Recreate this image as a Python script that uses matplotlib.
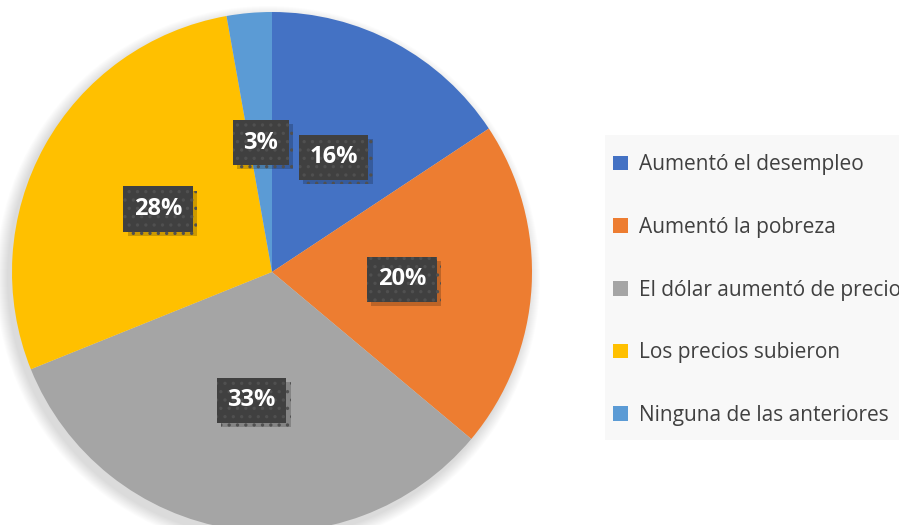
import matplotlib
matplotlib.use("Agg")
import matplotlib.pyplot as plt
import matplotlib.patheffects as pe
from matplotlib.patches import Circle, Rectangle

plt.rcParams["hatch.linewidth"] = 1.2

# datos (porcentaje por respuesta)
categorias = ["Aumentó el desempleo", "Aumentó la pobreza",
              "El dólar aumentó de precios", "Los precios subieron",
              "Ninguna de las anteriores"]
valores = [15.7, 20.4, 32.8, 28.3, 2.8]
colores = ["#4472C4", "#ED7D31", "#A5A5A5", "#FFC000", "#5B9BD5"]

W, H = 899, 525
fig = plt.figure(figsize=(W / 100, H / 100), dpi=100)
ax = fig.add_axes([0, 0, 1, 1])

cx, cy, R = 272, H - 272, 260

# sombra suave de la torta (abajo a la izquierda)
for k in range(12):
    ax.add_patch(Circle((cx - 4, cy - 6), R + 12 - k, color="black",
                        alpha=0.01, lw=0, zorder=0))

wedges, _, autotexts = ax.pie(
    valores, colors=colores, startangle=90, counterclock=False,
    radius=R, center=(cx, cy), autopct="%.0f%%", pctdistance=0.5,
    wedgeprops=dict(linewidth=0),
    textprops=dict(color="white", fontsize=17, fontweight="bold",
                   family=["Open Sans", "DejaVu Sans"]))

for t in autotexts:
    t.set_bbox(dict(boxstyle="square,pad=0.45", facecolor="#404040",
                    edgecolor="#505050", hatch="..", linewidth=0))
    t.get_bbox_patch().set_path_effects(
        [pe.SimplePatchShadow(offset=(3, -3), shadow_rgbFace="black", alpha=0.2),
         pe.Normal()])

ax.set_xlim(0, W)
ax.set_ylim(0, H)
ax.set_aspect("equal")
ax.axis("off")

# fondo de la leyenda
fig.patches.append(Rectangle((605 / W, 1 - 440 / H), (W - 605) / W, 305 / H,
                             transform=fig.transFigure, facecolor="#F8F8F8",
                             edgecolor="none", zorder=-5))

leg = ax.legend(wedges, categorias, loc="upper left",
                bbox_to_anchor=(605 / W, 1 - 146 / H),
                bbox_transform=fig.transFigure,
                prop=dict(family=["Open Sans", "DejaVu Sans"], size=15),
                labelcolor="#404040", frameon=False,
                handlelength=0.7, handleheight=0.7, handletextpad=0.55,
                labelspacing=2.0, borderpad=0.4, borderaxespad=0)

fig.savefig("out.png", dpi=100)
